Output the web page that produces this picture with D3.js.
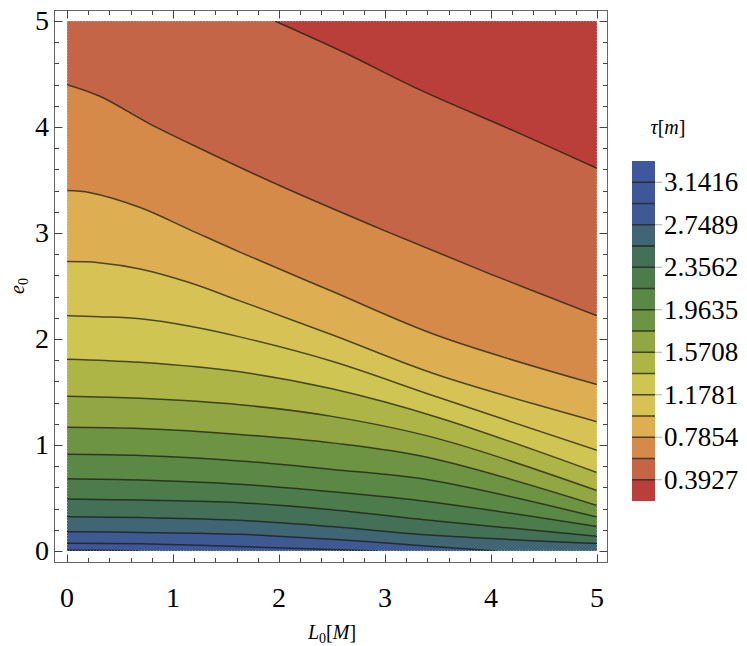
<!DOCTYPE html>
<html>
<head>
<meta charset="utf-8">
<script src="https://cdn.jsdelivr.net/npm/d3@7"></script>
<style>
body { margin: 0; background: #fff; }
svg { display: block; }
text { font-family: "Liberation Serif", "DejaVu Serif", serif; }
</style>
</head>
<body>
<script>
// contour levels (tau, in units of pi/16) and the colour of each band
var levels = [0.3927, 0.5890, 0.7854, 0.9817, 1.1781, 1.3744, 1.5708, 1.7671,
              1.9635, 2.1598, 2.3562, 2.5525, 2.7489, 2.9452, 3.1416];
var legendRange = [0.1963, 3.3379];
var bandColors = ["#ba3e3a", "#c56548", "#d58a4a", "#deaf52", "#d7c256", "#cfc552",
                  "#aeb547", "#92a644", "#6c9443", "#5c8846", "#4c7c4c", "#457058",
                  "#406676", "#3f5a92", "#3f5798", "#3f579c"];
var legendTicks  = [0.3927, 0.7854, 1.1781, 1.5708, 1.9635, 2.3562, 2.7489, 3.1416];
var legendLabels = ["0.3927", "0.7854", "1.1781", "1.5708", "1.9635", "2.3562", "2.7489", "3.1416"];
var L0Ticks = [0, 1, 2, 3, 4, 5];
var e0Ticks = [0, 1, 2, 3, 4, 5];

// contour lines, [L0, e0]
var contour02 = [[1.96,5],[2.6,4.71],[3.33,4.35],[4.2,3.97],[5,3.61]];
var contour03 = [[0,4.40],[0.31,4.29],[0.78,4.03],[1.25,3.80],[2,3.45],[3,3.02],[4,2.61],[5,2.22]];
var contour04 = [[0,3.40],[0.22,3.38],[0.69,3.24],[1.16,3.03],[1.63,2.82],[2.5,2.45],[3.5,2.03],[5,1.57]];
var contour05 = [[0,2.73],[0.3,2.72],[0.69,2.66],[1.16,2.53],[1.63,2.36],[2.5,2.04],[3.5,1.66],[5,1.22]];
var contour06 = [[0,2.22],[0.3,2.21],[0.69,2.19],[1.16,2.12],[1.63,2.02],[2.5,1.79],[3.5,1.45],[5,0.95]];
var contour07 = [[0,1.81],[0.69,1.78],[1.63,1.69],[2.5,1.53],[3.5,1.26],[5,0.74]];
var contour08 = [[0,1.46],[0.69,1.44],[1.63,1.38],[2.5,1.27],[3.5,1.06],[5,0.57]];
var contour09 = [[0,1.167],[0.69,1.155],[1.63,1.10],[2.5,1.02],[3.42,0.88],[5,0.43]];
var contour10 = [[0,0.912],[0.69,0.90],[1.63,0.85],[2.5,0.77],[3.42,0.67],[5,0.32]];
var contour11 = [[0,0.682],[0.69,0.67],[1.63,0.63],[2.5,0.56],[3.42,0.465],[5,0.23]];
var contour12 = [[0,0.49],[0.69,0.48],[1.63,0.456],[2.5,0.39],[3.42,0.29],[5,0.14]];
var contour13 = [[0,0.324],[0.69,0.315],[1.63,0.29],[2.5,0.23],[3.42,0.15],[5,0.07]];
var contour14 = [[0,0.182],[0.69,0.175],[1.63,0.157],[2.5,0.11],[3.42,0.045],[4.05,0]];
var contour15 = [[0,0.073],[0.69,0.068],[1.63,0.042],[2.5,0.015],[2.93,0]];
var contour16 = [[0,0.008],[0.3,0.006],[0.68,0]];

var contours = [contour02, contour03, contour04, contour05, contour06, contour07, contour08,
                contour09, contour10, contour11, contour12, contour13, contour14, contour15, contour16];

var width = 747, height = 646;
var svg = d3.select("body").append("svg")
    .attr("width", width)
    .attr("height", height);

var x = d3.scaleLinear().domain([0, 5]).range([67, 597]);
var y = d3.scaleLinear().domain([0, 5]).range([551, 21]);

var line = d3.line()
    .x(function (d) { return x(d[0]); })
    .y(function (d) { return y(d[1]); })
    .curve(d3.curveCatmullRom.alpha(0.5));

// position of an edge point going round the data square (bottom, right, top, left)
function perim(p) {
  if (p[1] === 0) return p[0];
  if (p[0] === 5) return 5 + p[1];
  if (p[1] === 5) return 10 + (5 - p[0]);
  return 15 + (5 - p[1]);
}
var corners = [[5, 0, 5], [5, 5, 10], [0, 5, 15], [0, 0, 20]];

function regionPath(pts) {   // area where tau is below the level (up / right of the line)
  var a = perim(pts[pts.length - 1]), b = perim(pts[0]);
  if (b < a) b += 20;
  var s = line(pts);
  corners.forEach(function (c) {
    [c[2], c[2] + 20].forEach(function (t) {
      if (t > a && t < b) s += "L" + x(c[0]) + "," + y(c[1]);
    });
  });
  return s + "Z";
}

var plot = svg.append("g");
plot.append("clipPath").attr("id", "data-clip")
  .append("rect")
    .attr("x", x(0)).attr("y", y(5))
    .attr("width", x(5) - x(0)).attr("height", y(0) - y(5));

var inner = plot.append("g").attr("clip-path", "url(#data-clip)");
inner.append("rect")
    .attr("x", x(0)).attr("y", y(5))
    .attr("width", x(5) - x(0)).attr("height", y(0) - y(5))
    .attr("fill", bandColors[bandColors.length - 1]);

for (var i = contours.length - 1; i >= 0; i--) {
  inner.append("path")
      .attr("d", regionPath(contours[i]))
      .attr("fill", bandColors[i]);
}

inner.selectAll("path.cline")
    .data(contours)
    .enter().append("path")
    .attr("class", "cline")
    .attr("d", line)
    .attr("fill", "none")
    .attr("stroke", "rgba(25,25,15,0.72)")
    .attr("stroke-width", 1.5);

// faint dotted edge of the data region
plot.append("rect")
    .attr("x", x(0)).attr("y", y(5))
    .attr("width", x(5) - x(0)).attr("height", y(0) - y(5))
    .attr("fill", "none")
    .attr("stroke", "rgba(255,255,255,0.6)")
    .attr("stroke-width", 1)
    .attr("stroke-dasharray", "1,2");

// frame with ticks on all sides
var fx0 = 54.5, fx1 = 607.5, fy0 = 10.5, fy1 = 562.5;
svg.append("rect")
    .attr("x", fx0).attr("y", fy0)
    .attr("width", fx1 - fx0).attr("height", fy1 - fy0)
    .attr("fill", "none").attr("stroke", "#666").attr("stroke-width", 1);

var minor = d3.range(0, 26).map(function (d) { return d / 5; });
var ticks = svg.append("g").attr("stroke", "#444").attr("stroke-width", 1);
minor.forEach(function (v) {
  var len = Number.isInteger(v) ? 8 : 4.5;
  var px = Math.round(x(v)) + 0.5, py = Math.round(y(v)) + 0.5;
  ticks.append("line").attr("x1", px).attr("x2", px).attr("y1", fy1).attr("y2", fy1 - len);
  ticks.append("line").attr("x1", px).attr("x2", px).attr("y1", fy0).attr("y2", fy0 + len);
  ticks.append("line").attr("y1", py).attr("y2", py).attr("x1", fx0).attr("x2", fx0 + len);
  ticks.append("line").attr("y1", py).attr("y2", py).attr("x1", fx1).attr("x2", fx1 - len);
});

svg.selectAll("text.xt")
    .data(L0Ticks)
    .enter().append("text")
    .attr("class", "xt")
    .attr("x", function (d) { return x(d); })
    .attr("y", 607)
    .attr("text-anchor", "middle")
    .attr("font-size", 28)
    .text(function (d) { return d; });

svg.selectAll("text.yt")
    .data(e0Ticks)
    .enter().append("text")
    .attr("class", "yt")
    .attr("x", 49)
    .attr("y", function (d) { return y(d) + 9; })
    .attr("text-anchor", "end")
    .attr("font-size", 28)
    .text(function (d) { return d; });

// axis titles
var xt = svg.append("text").attr("x", 332).attr("y", 639)
    .attr("text-anchor", "middle").attr("font-size", 20);
xt.append("tspan").attr("font-style", "italic").text("L");
xt.append("tspan").attr("font-size", 14).attr("dy", 4).text("0");
xt.append("tspan").attr("dy", -4).text("[");
xt.append("tspan").attr("font-style", "italic").text("M");
xt.append("tspan").text("]");

var yt = svg.append("text")
    .attr("transform", "translate(24,286) rotate(-90)")
    .attr("text-anchor", "middle").attr("font-size", 20);
yt.append("tspan").attr("font-style", "italic").text("e");
yt.append("tspan").attr("font-size", 14).attr("dy", 4).text("0");

// legend
var ly = d3.scaleLinear().domain(legendRange).range([501, 161]);
var lx = 632, lw = 23;
var legend = svg.append("g");
var bandEdges = [legendRange[0]].concat(levels, [legendRange[1]]);
legend.selectAll("rect")
    .data(bandColors)
    .enter().append("rect")
    .attr("x", lx).attr("width", lw)
    .attr("y", function (d, i) { return ly(bandEdges[i + 1]); })
    .attr("height", function (d, i) { return ly(bandEdges[i]) - ly(bandEdges[i + 1]); })
    .attr("fill", function (d) { return d; });

legend.selectAll("line.lv")
    .data(levels)
    .enter().append("line")
    .attr("class", "lv")
    .attr("x1", lx).attr("x2", lx + lw)
    .attr("y1", function (d) { return ly(d); })
    .attr("y2", function (d) { return ly(d); })
    .attr("stroke", "rgba(25,25,15,0.75)").attr("stroke-width", 1.5);

legend.selectAll("line.lt")
    .data(legendTicks)
    .enter().append("line")
    .attr("class", "lt")
    .attr("x1", lx + lw).attr("x2", lx + lw + 7)
    .attr("y1", function (d) { return ly(d); })
    .attr("y2", function (d) { return ly(d); })
    .attr("stroke", "#aaa").attr("stroke-width", 1);

legend.selectAll("text.ll")
    .data(legendTicks)
    .enter().append("text")
    .attr("class", "ll")
    .attr("x", 664)
    .attr("y", function (d) { return ly(d) + 9; })
    .attr("font-size", 27)
    .text(function (d, i) { return legendLabels[i]; });

var lt = svg.append("text").attr("x", 668).attr("y", 134)
    .attr("text-anchor", "middle").attr("font-size", 20);
lt.append("tspan").attr("font-style", "italic").text("τ");
lt.append("tspan").text("[");
lt.append("tspan").attr("font-style", "italic").text("m");
lt.append("tspan").text("]");
</script>
</body>
</html>
